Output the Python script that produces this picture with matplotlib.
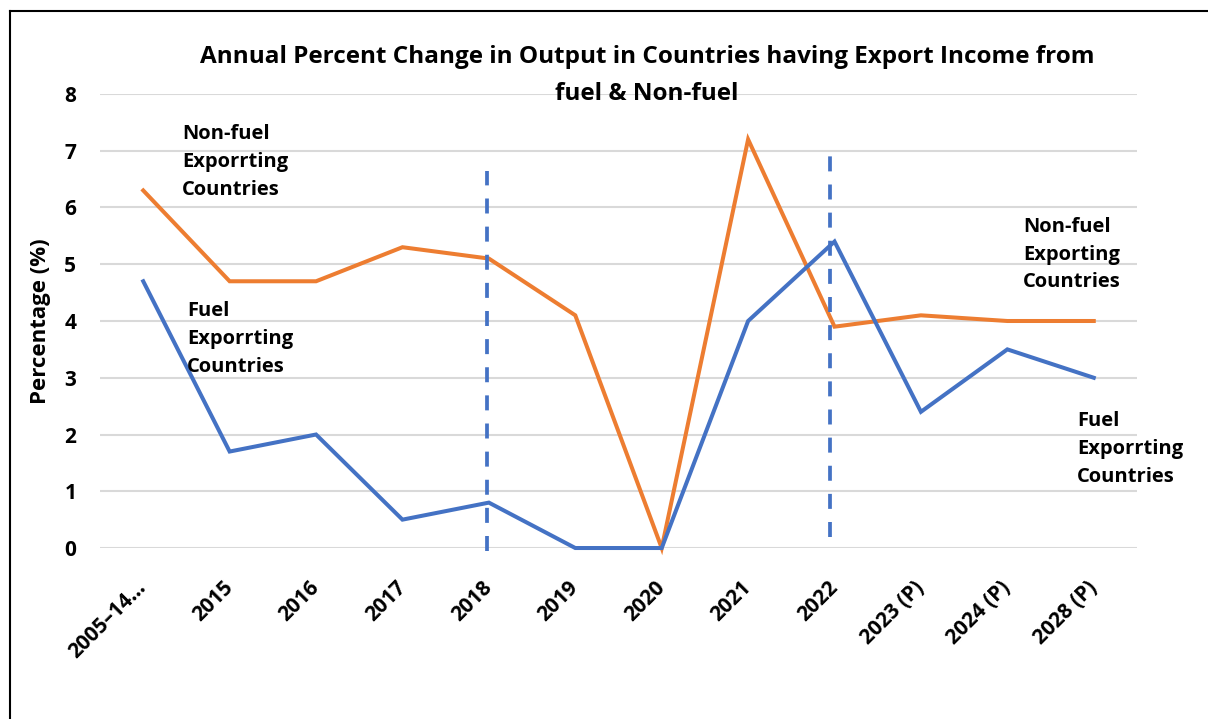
import matplotlib
matplotlib.use('Agg')
import matplotlib.pyplot as plt
from matplotlib.lines import Line2D

plt.rcParams['font.family'] = ['Open Sans', 'DejaVu Sans']

years = ['2005–14…', '2015', '2016', '2017', '2018', '2019', '2020',
         '2021', '2022', '2023 (P)', '2024 (P)', '2028 (P)']
fuel = [4.7, 1.7, 2.0, 0.5, 0.8, 0.0, 0.0, 4.0, 5.4, 2.4, 3.5, 3.0]
non_fuel = [6.3, 4.7, 4.7, 5.3, 5.1, 4.1, 0.0, 7.2, 3.9, 4.1, 4.0, 4.0]

# vertical dashed markers (x position, y bottom, y top)
markers = [(3.98, -0.05, 6.65), (7.95, 0.2, 6.9)]

# label text and anchor (x, y top)
labels = [
    ('Non-fuel\nExporrting\nCountries', 0.45, 7.47),
    ('Fuel\nExporrting\nCountries', 0.51, 4.35),
    ('Non-fuel\nExporting\nCountries', 10.18, 5.84),
    ('Fuel\nExporrting\nCountries', 10.81, 2.42),
]

BLUE = '#4472C4'
ORANGE = '#ED7D31'


def main():
    fig = plt.figure(figsize=(12.08, 7.19), dpi=100)
    ax = fig.add_axes([0.0828, 0.2378, 0.8584, 0.6315])

    x = list(range(len(years)))
    ax.plot(x, non_fuel, color=ORANGE, linewidth=2.9, clip_on=False,
            solid_joinstyle='miter', zorder=3)
    ax.plot(x, fuel, color=BLUE, linewidth=2.9, clip_on=False,
            solid_joinstyle='miter', zorder=4)

    for xm, y0, y1 in markers:
        ax.plot([xm, xm], [y0, y1], color=BLUE, linewidth=2.7,
                linestyle=(0, (4, 3.5)), clip_on=False, zorder=5)

    for text, tx, ty in labels:
        ax.text(tx, ty, text, ha='left', va='top', fontsize=14.5,
                fontweight='bold', linespacing=1.53, zorder=6)

    ax.set_xlim(-0.5, len(years) - 0.5)
    ax.set_ylim(0, 8)
    ax.set_yticks(range(0, 9))
    ax.set_xticks(x)
    ax.set_xticklabels(years, rotation=45, ha='right', va='center',
                       rotation_mode='anchor', fontsize=15, fontweight='bold')
    for lbl in ax.get_yticklabels():
        lbl.set_fontsize(15)
        lbl.set_fontweight('bold')
    ax.tick_params(axis='y', length=0, pad=17)
    ax.tick_params(axis='x', length=0, pad=26)

    ax.grid(axis='y', color='#D9D9D9', linewidth=1.5)
    ax.set_axisbelow(True)
    for s in ax.spines.values():
        s.set_visible(False)

    ax.set_ylabel('Percentage (%)', fontsize=16, fontweight='bold', labelpad=10)

    fig.text(0.5356, 0.895,
             'Annual Percent Change in Output in Countries having Export Income from\nfuel & Non-fuel',
             ha='center', va='center', fontsize=17.5, fontweight='bold',
             linespacing=1.7)

    # outer frame (left and top edge only)
    fig.add_artist(Line2D([0.0083, 0.0083], [0, 0.985], color='black',
                          linewidth=1.5, transform=fig.transFigure))
    fig.add_artist(Line2D([0.0083, 1.0], [0.985, 0.985], color='black',
                          linewidth=1.5, transform=fig.transFigure))

    fig.savefig('out.png', dpi=100)


if __name__ == '__main__':
    main()
